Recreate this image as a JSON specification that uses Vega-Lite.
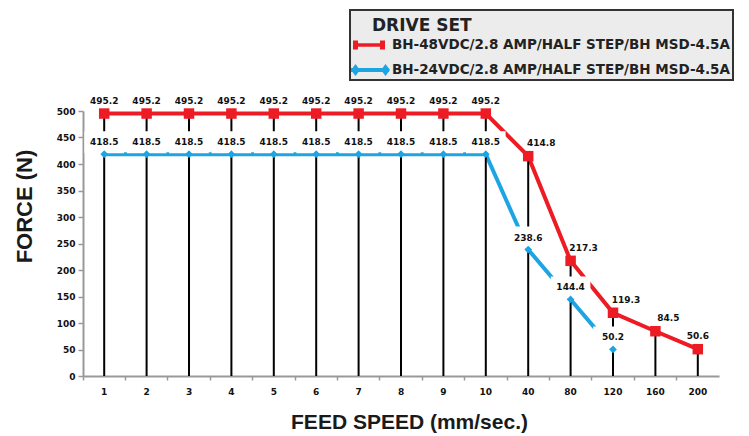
{
  "$schema": "https://vega.github.io/schema/vega-lite/v6.json",
  "width": 636,
  "height": 265,
  "autosize": {"type": "none"},
  "padding": {"left": 83, "top": 111, "right": 30, "bottom": 60},
  "background": "white",
  "config": {"view": {"stroke": null}},
  "data": {
    "values": [
      {"speed": "1", "series": "BH-48VDC/2.8 AMP/HALF STEP/BH MSD-4.5A", "force": 495.2},
      {"speed": "2", "series": "BH-48VDC/2.8 AMP/HALF STEP/BH MSD-4.5A", "force": 495.2},
      {"speed": "3", "series": "BH-48VDC/2.8 AMP/HALF STEP/BH MSD-4.5A", "force": 495.2},
      {"speed": "4", "series": "BH-48VDC/2.8 AMP/HALF STEP/BH MSD-4.5A", "force": 495.2},
      {"speed": "5", "series": "BH-48VDC/2.8 AMP/HALF STEP/BH MSD-4.5A", "force": 495.2},
      {"speed": "6", "series": "BH-48VDC/2.8 AMP/HALF STEP/BH MSD-4.5A", "force": 495.2},
      {"speed": "7", "series": "BH-48VDC/2.8 AMP/HALF STEP/BH MSD-4.5A", "force": 495.2},
      {"speed": "8", "series": "BH-48VDC/2.8 AMP/HALF STEP/BH MSD-4.5A", "force": 495.2},
      {"speed": "9", "series": "BH-48VDC/2.8 AMP/HALF STEP/BH MSD-4.5A", "force": 495.2},
      {"speed": "10", "series": "BH-48VDC/2.8 AMP/HALF STEP/BH MSD-4.5A", "force": 495.2},
      {"speed": "40", "series": "BH-48VDC/2.8 AMP/HALF STEP/BH MSD-4.5A", "force": 414.8},
      {"speed": "80", "series": "BH-48VDC/2.8 AMP/HALF STEP/BH MSD-4.5A", "force": 217.3},
      {"speed": "120", "series": "BH-48VDC/2.8 AMP/HALF STEP/BH MSD-4.5A", "force": 119.3},
      {"speed": "160", "series": "BH-48VDC/2.8 AMP/HALF STEP/BH MSD-4.5A", "force": 84.5},
      {"speed": "200", "series": "BH-48VDC/2.8 AMP/HALF STEP/BH MSD-4.5A", "force": 50.6},
      {"speed": "1", "series": "BH-24VDC/2.8 AMP/HALF STEP/BH MSD-4.5A", "force": 418.5},
      {"speed": "2", "series": "BH-24VDC/2.8 AMP/HALF STEP/BH MSD-4.5A", "force": 418.5},
      {"speed": "3", "series": "BH-24VDC/2.8 AMP/HALF STEP/BH MSD-4.5A", "force": 418.5},
      {"speed": "4", "series": "BH-24VDC/2.8 AMP/HALF STEP/BH MSD-4.5A", "force": 418.5},
      {"speed": "5", "series": "BH-24VDC/2.8 AMP/HALF STEP/BH MSD-4.5A", "force": 418.5},
      {"speed": "6", "series": "BH-24VDC/2.8 AMP/HALF STEP/BH MSD-4.5A", "force": 418.5},
      {"speed": "7", "series": "BH-24VDC/2.8 AMP/HALF STEP/BH MSD-4.5A", "force": 418.5},
      {"speed": "8", "series": "BH-24VDC/2.8 AMP/HALF STEP/BH MSD-4.5A", "force": 418.5},
      {"speed": "9", "series": "BH-24VDC/2.8 AMP/HALF STEP/BH MSD-4.5A", "force": 418.5},
      {"speed": "10", "series": "BH-24VDC/2.8 AMP/HALF STEP/BH MSD-4.5A", "force": 418.5},
      {"speed": "40", "series": "BH-24VDC/2.8 AMP/HALF STEP/BH MSD-4.5A", "force": 238.6},
      {"speed": "80", "series": "BH-24VDC/2.8 AMP/HALF STEP/BH MSD-4.5A", "force": 144.4},
      {"speed": "120", "series": "BH-24VDC/2.8 AMP/HALF STEP/BH MSD-4.5A", "force": 50.2}
    ]
  },
  "encoding": {
    "x": {
      "field": "speed",
      "type": "nominal",
      "sort": ["1", "2", "3", "4", "5", "6", "7", "8", "9", "10", "40", "80", "120", "160", "200"],
      "scale": {"type": "band", "paddingInner": 0, "paddingOuter": 0},
      "axis": {
        "title": "FEED SPEED (mm/sec.)",
        "titleFont": "Liberation Sans",
        "titleFontSize": 21,
        "titleFontWeight": "bold",
        "titleColor": "#1a1a1a",
        "titleX": 326,
        "titleY": 46,
        "titleBaseline": "middle",
        "titleAlign": "center",
        "labelAngle": 0,
        "labelFont": "DejaVu Sans",
        "labelFontSize": 9,
        "labelFontWeight": "bold",
        "labelColor": "#111111",
        "labelPadding": 7,
        "domainColor": "#999999",
        "domainWidth": 2,
        "tickColor": "#999999",
        "tickWidth": 1.5,
        "tickSize": 4,
        "bandPosition": 0,
        "grid": false
      }
    },
    "y": {
      "field": "force",
      "type": "quantitative",
      "scale": {"domain": [0, 500], "nice": false},
      "axis": {
        "title": "FORCE (N)",
        "titleFont": "Liberation Sans",
        "titleFontSize": 22,
        "titleFontWeight": "bold",
        "titleColor": "#1a1a1a",
        "titleX": -59,
        "titleY": 95,
        "titleBaseline": "middle",
        "titleAlign": "center",
        "values": [0, 50, 100, 150, 200, 250, 300, 350, 400, 450, 500],
        "labelFont": "DejaVu Sans",
        "labelFontSize": 9,
        "labelFontWeight": "bold",
        "labelColor": "#111111",
        "labelPadding": 3,
        "domainColor": "#999999",
        "domainWidth": 2,
        "tickColor": "#999999",
        "tickWidth": 1.5,
        "tickSize": 5,
        "grid": false
      }
    }
  },
  "layer": [
    {
      "mark": {"type": "line", "strokeWidth": 4},
      "encoding": {
        "color": {
          "field": "series",
          "type": "nominal",
          "scale": {
            "domain": ["BH-48VDC/2.8 AMP/HALF STEP/BH MSD-4.5A", "BH-24VDC/2.8 AMP/HALF STEP/BH MSD-4.5A"],
            "range": ["#ed1c24", "#1da5e3"]
          },
          "legend": {
            "orient": "none",
            "legendX": 267,
            "legendY": -101,
            "title": "DRIVE SET",
            "titleFont": "DejaVu Sans",
            "titleFontSize": 17,
            "titleFontWeight": "bold",
            "titleColor": "#222222",
            "titlePadding": 5,
            "labelFont": "DejaVu Sans",
            "labelFontSize": 13.5,
            "labelFontWeight": "bold",
            "labelColor": "#222222",
            "labelLimit": 600,
            "labelOffset": 19,
            "symbolSize": 400,
            "rowPadding": 8,
            "padding": 3,
            "fillColor": "#ececec",
            "strokeColor": "#333333",
            "encode": {
              "legend": {"update": {"strokeWidth": {"value": 2}}},
              "title": {"update": {"dx": {"value": 19}, "dy": {"value": 5}}},
              "symbols": {
                "update": {
                  "shape": {"signal": "datum.value === 'BH-48VDC/2.8 AMP/HALF STEP/BH MSD-4.5A' ? 'M-1,-0.18H2.2V0.18H-1Z M-1,-0.45H-0.5V0.45H-1Z M1.7,-0.45H2.2V0.45H1.7Z' : 'M-1.2,-0.2H2.6V0.2H-1.2Z M-1.2,0L-0.75,-0.6L-0.3,0L-0.75,0.6Z M1.8,0L2.25,-0.6L2.7,0L2.25,0.6Z'"},
                  "fill": {"scale": "color", "field": "value"},
                  "strokeWidth": {"value": 0},
                  "opacity": {"value": 1}
                }
              }
            }
          }
        }
      }
    },
    {
      "transform": [{"filter": {"field": "series", "equal": "BH-48VDC/2.8 AMP/HALF STEP/BH MSD-4.5A"}}],
      "mark": {"type": "rule", "color": "#000000", "strokeWidth": 2},
      "encoding": {"y2": {"datum": 0}}
    },
    {
      "transform": [{"filter": {"field": "series", "equal": "BH-24VDC/2.8 AMP/HALF STEP/BH MSD-4.5A"}}],
      "mark": {"type": "point", "shape": "M-1.8,-1H1.8V1H-1.8Z", "size": 484, "filled": true, "color": "#ffffff", "opacity": 1, "yOffset": -12}
    },
    {
      "transform": [{"filter": {"field": "series", "equal": "BH-48VDC/2.8 AMP/HALF STEP/BH MSD-4.5A"}}],
      "mark": {"type": "point", "shape": "square", "size": 110, "filled": true, "color": "#ed1c24", "opacity": 1}
    },
    {
      "transform": [{"filter": {"field": "series", "equal": "BH-24VDC/2.8 AMP/HALF STEP/BH MSD-4.5A"}}],
      "mark": {"type": "point", "shape": "diamond", "size": 60, "filled": true, "color": "#1da5e3", "opacity": 1}
    },
    {
      "transform": [{"filter": {"field": "series", "equal": "BH-24VDC/2.8 AMP/HALF STEP/BH MSD-4.5A"}}],
      "mark": {"type": "text", "dy": -12, "font": "DejaVu Sans", "fontSize": 9, "fontWeight": "bold", "color": "#111111"},
      "encoding": {"text": {"field": "force", "type": "quantitative", "format": ".1f"}}
    },
    {
      "transform": [{"filter": {"and": [
        {"field": "series", "equal": "BH-48VDC/2.8 AMP/HALF STEP/BH MSD-4.5A"},
        {"not": {"field": "speed", "oneOf": ["40", "80", "120", "160"]}}
      ]}}],
      "mark": {"type": "text", "dy": -13, "font": "DejaVu Sans", "fontSize": 9, "fontWeight": "bold", "color": "#111111"},
      "encoding": {"text": {"field": "force", "type": "quantitative", "format": ".1f"}}
    },
    {
      "transform": [{"filter": {"and": [
        {"field": "series", "equal": "BH-48VDC/2.8 AMP/HALF STEP/BH MSD-4.5A"},
        {"field": "speed", "oneOf": ["40", "80", "120", "160"]}
      ]}}],
      "mark": {"type": "text", "dy": -13, "dx": 13, "font": "DejaVu Sans", "fontSize": 9, "fontWeight": "bold", "color": "#111111"},
      "encoding": {"text": {"field": "force", "type": "quantitative", "format": ".1f"}}
    }
  ]
}
